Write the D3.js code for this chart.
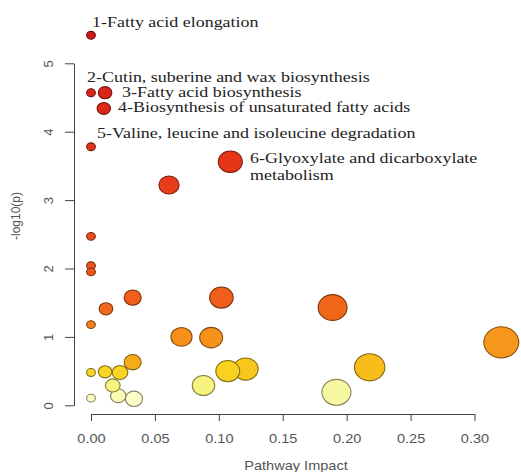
<!DOCTYPE html>
<html>
<head>
<meta charset="utf-8">
<script src="https://cdn.jsdelivr.net/npm/d3@7"></script>
<style>
  body { margin: 0; background: #fff; }
  svg { display: block; }
</style>
</head>
<body>
<svg id="chart"></svg>
<script>
// pathway impact (x) and -log10(p) (y)
const impact = [0, 0, 0.011, 0.010, 0, 0.109, 0.061, 0, 0, 0, 0.0326, 0.102, 0.189, 0.0117, 0,
  0.094, 0.0708, 0.321, 0.0326, 0.218, 0.121, 0.107, 0.011, 0, 0.0227, 0.017, 0.088, 0.192, 0.0213, 0, 0.0336];
const logp = [5.41, 4.57, 4.57, 4.34, 3.78, 3.56, 3.22, 2.47, 2.04, 1.95, 1.575, 1.575, 1.43, 1.41, 1.18,
  0.99, 1.0, 0.92, 0.63, 0.556, 0.53, 0.50, 0.49, 0.48, 0.48, 0.29, 0.29, 0.19, 0.14, 0.105, 0.095];

// labels for the top six pathways
const pathwayLabels = [
  ["1-Fatty acid elongation"],
  ["2-Cutin, suberine and wax biosynthesis"],
  ["3-Fatty acid biosynthesis"],
  ["4-Biosynthesis of unsaturated fatty acids"],
  ["5-Valine, leucine and isoleucine degradation"],
  ["6-Glyoxylate and dicarboxylate", "metabolism"]
];
// where each label sits (pixel offsets, left x / baseline y)
const labelPos = [[92, 27], [87, 82], [122, 97], [118, 111.5], [97, 138.3], [250, 163.3]];

const xTicks = [0, 0.05, 0.10, 0.15, 0.20, 0.25, 0.30];
const yTicks = [0, 1, 2, 3, 4, 5];

const W = 521, H = 472;
const sx = 1.12; // the picture is a bit wider than tall

const svg = d3.select("#chart").attr("width", W).attr("height", H);

const x = d3.scaleLinear().domain([0, 0.30]).range([91, 474.5]);
const y = d3.scaleLinear().domain([0, 5]).range([405.3, 63.3]);
const r = d3.scaleSqrt().domain([0, 0.32]).range([3.9, 15.6]);
const color = d3.scaleLinear()
  .domain([0, 0.15, 0.3, 0.5, 0.6, 1.0, 1.5, 2.5, 3.5, 5.5])
  .range(["#fffff2", "#fafab0", "#f7f27a", "#f8d21e", "#f6ae18", "#f6901a", "#f0601a", "#e84a1c", "#e8361a", "#cc1818"]);

const data = impact.map((d, i) => ({ impact: d, logp: logp[i] }));

// bubbles, biggest first so small ones stay on top
svg.append("g")
  .selectAll("ellipse")
  .data(data.slice().sort((a, b) => b.impact - a.impact))
  .enter()
  .append("ellipse")
  .attr("cx", d => x(d.impact))
  .attr("cy", d => y(d.logp))
  .attr("rx", d => r(d.impact) * sx)
  .attr("ry", d => r(d.impact))
  .attr("fill", d => color(d.logp))
  .attr("stroke", d => d3.color(color(d.logp)).darker(1.8))
  .attr("stroke-width", 1.1);

// x axis
const gx = svg.append("g")
  .attr("transform", "translate(0,414)")
  .call(d3.axisBottom(x).tickValues(xTicks).tickFormat(d3.format(".2f")).tickSize(7).tickSizeOuter(0));
gx.select(".domain").attr("stroke", "#444");
gx.selectAll(".tick line").attr("stroke", "#444");
gx.selectAll(".tick text")
  .attr("y", 0).attr("dy", 0)
  .attr("transform", "translate(0,29) scale(" + sx + ",1)")
  .attr("fill", "#555")
  .style("font", "13px 'Liberation Sans', Arial, sans-serif");

// y axis
const gy = svg.append("g")
  .attr("transform", "translate(74,0)")
  .call(d3.axisLeft(y).tickValues(yTicks).tickFormat(d3.format("d")).tickSize(9).tickSizeOuter(0));
gy.select(".domain").attr("stroke", "#444");
gy.selectAll(".tick line").attr("stroke", "#444");
gy.selectAll(".tick text")
  .attr("x", 0).attr("dy", 0)
  .attr("text-anchor", "middle")
  .attr("transform", "translate(-21,0) rotate(-90)")
  .attr("fill", "#555")
  .style("font", "13px 'Liberation Sans', Arial, sans-serif");

// axis titles
svg.append("text")
  .attr("transform", "translate(296,469.5) scale(" + sx + ",1)")
  .attr("text-anchor", "middle")
  .attr("fill", "#555")
  .style("font", "13px 'Liberation Sans', Arial, sans-serif")
  .text("Pathway Impact");

svg.append("text")
  .attr("transform", "translate(20,216) rotate(-90)")
  .attr("text-anchor", "middle")
  .attr("fill", "#555")
  .style("font", "12px 'Liberation Sans', Arial, sans-serif")
  .text("-log10(p)");

// pathway labels
pathwayLabels.forEach((lines, i) => {
  const t = svg.append("text")
    .attr("transform", `translate(${labelPos[i][0]},${labelPos[i][1]}) scale(1.23,1)`)
    .attr("fill", "#222")
    .style("font", "14.6px 'Liberation Serif', 'Times New Roman', serif");
  lines.forEach((s, j) => {
    t.append("tspan").attr("x", 0).attr("y", j * 17).text(s);
  });
});
</script>
</body>
</html>
